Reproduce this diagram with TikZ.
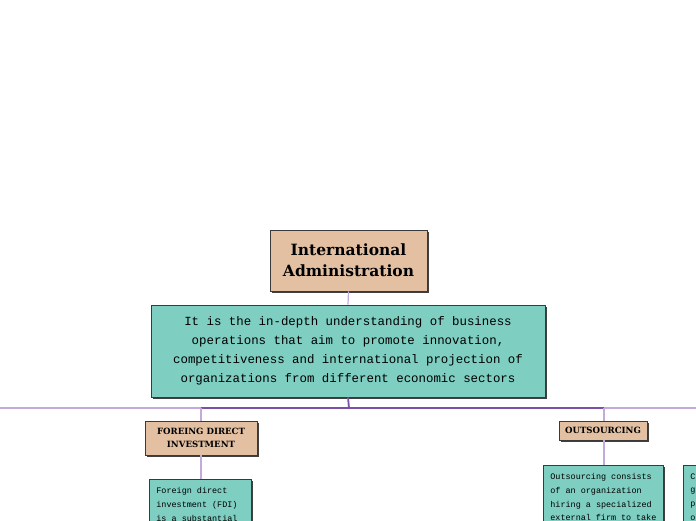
\documentclass[tikz,border=0pt]{standalone}
\usepackage{fontspec}
\setmainfont{Liberation Mono}
\newfontfamily\headfont{DejaVu Serif}
\newfontfamily\bodyfont{Liberation Mono}
\usetikzlibrary{shadows}
\definecolor{tanfill}{HTML}{E3C0A1}
\definecolor{tealfill}{HTML}{7ECEC1}
\definecolor{lightpurple}{HTML}{C2ABDB}
\definecolor{darkpurple}{HTML}{7E4FA6}
\definecolor{edgegray}{HTML}{3A3A3A}
\tikzset{
  boxbase/.style={draw=edgegray, line width=0.8pt, align=center, inner sep=0pt,
    drop shadow={shadow xshift=2pt, shadow yshift=-2pt, fill=black!75, opacity=1}},
  headbox/.style={boxbase, fill=tanfill},
  textbox/.style={boxbase, fill=tealfill},
  bodybox/.style={textbox, anchor=north west, align=left, inner xsep=7pt, inner ysep=0pt,
    font=\bodyfont\fontsize{8.45}{13.8}\selectfont},
  thinlink/.style={draw=lightpurple, line width=1.2pt},
  thicklink/.style={draw=darkpurple, line width=1.8pt},
}
\newcommand{\bodytext}[2]{\parbox[t][110pt][t]{#1}{\raggedright\vspace{8pt}#2}}
\begin{document}
\begin{tikzpicture}[x=1pt,y=-1pt]
\clip (0,0) rectangle (696,520);
\fill[white] (0,0) rectangle (696,520);
% junction coordinates
\coordinate (hl) at (0,408);
\coordinate (hr) at (696,408);
\coordinate (jm) at (349,408);
\coordinate (jf) at (201,408);
\coordinate (jo) at (604,408);
% nodes
\node[headbox, minimum width=157pt, minimum height=61pt,
  font=\headfont\bfseries\fontsize{15.5}{21}\selectfont] (title) at (348.5,260.5)
  {International\\Administration};
\node[textbox, minimum width=394pt, minimum height=92pt,
  font=\bodyfont\fontsize{12.4}{19}\selectfont] (desc) at (348,351)
  {It is the in-depth understanding of business\\operations that aim to promote innovation,\\competitiveness and international projection of\\organizations from different economic sectors};
\node[headbox, minimum width=112pt, minimum height=34pt,
  font=\headfont\bfseries\fontsize{8.6}{13}\selectfont] (fdi) at (201,438)
  {FOREING DIRECT\\INVESTMENT};
\node[headbox, minimum width=88pt, minimum height=19pt,
  font=\headfont\bfseries\fontsize{8.6}{13}\selectfont] (out) at (603,430.5)
  {OUTSOURCING};
\node[bodybox, minimum width=102pt] (fdibody) at (149,479)
  {\bodytext{88pt}{Foreign direct\\investment (FDI)\\is a substantial}};
\node[bodybox, minimum width=120pt] (outbody) at (543,465)
  {\bodytext{106pt}{Outsourcing consists\\of an organization\\hiring a specialized\\external firm to take}};
\node[bodybox, minimum width=120pt] (thirdbody) at (683,465)
  {\bodytext{106pt}{C\\g\\p\\o}};
% connectors
\draw[thinlink] (hl) -- (hr);
\draw[thicklink] (jf) -- (jo);
\draw[thinlink] (title.south) -- (desc.north);
\draw[thicklink] (desc.south) -- (jm);
\draw[thinlink] (jf) -- (fdi.north);
\draw[thinlink] (fdi.south) -- (fdibody.north -| fdi.south);
\draw[thinlink] (jo) -- (out.north -| jo);
\draw[thinlink] (out.south -| jo) -- (outbody.north -| jo);
\end{tikzpicture}
\end{document}
